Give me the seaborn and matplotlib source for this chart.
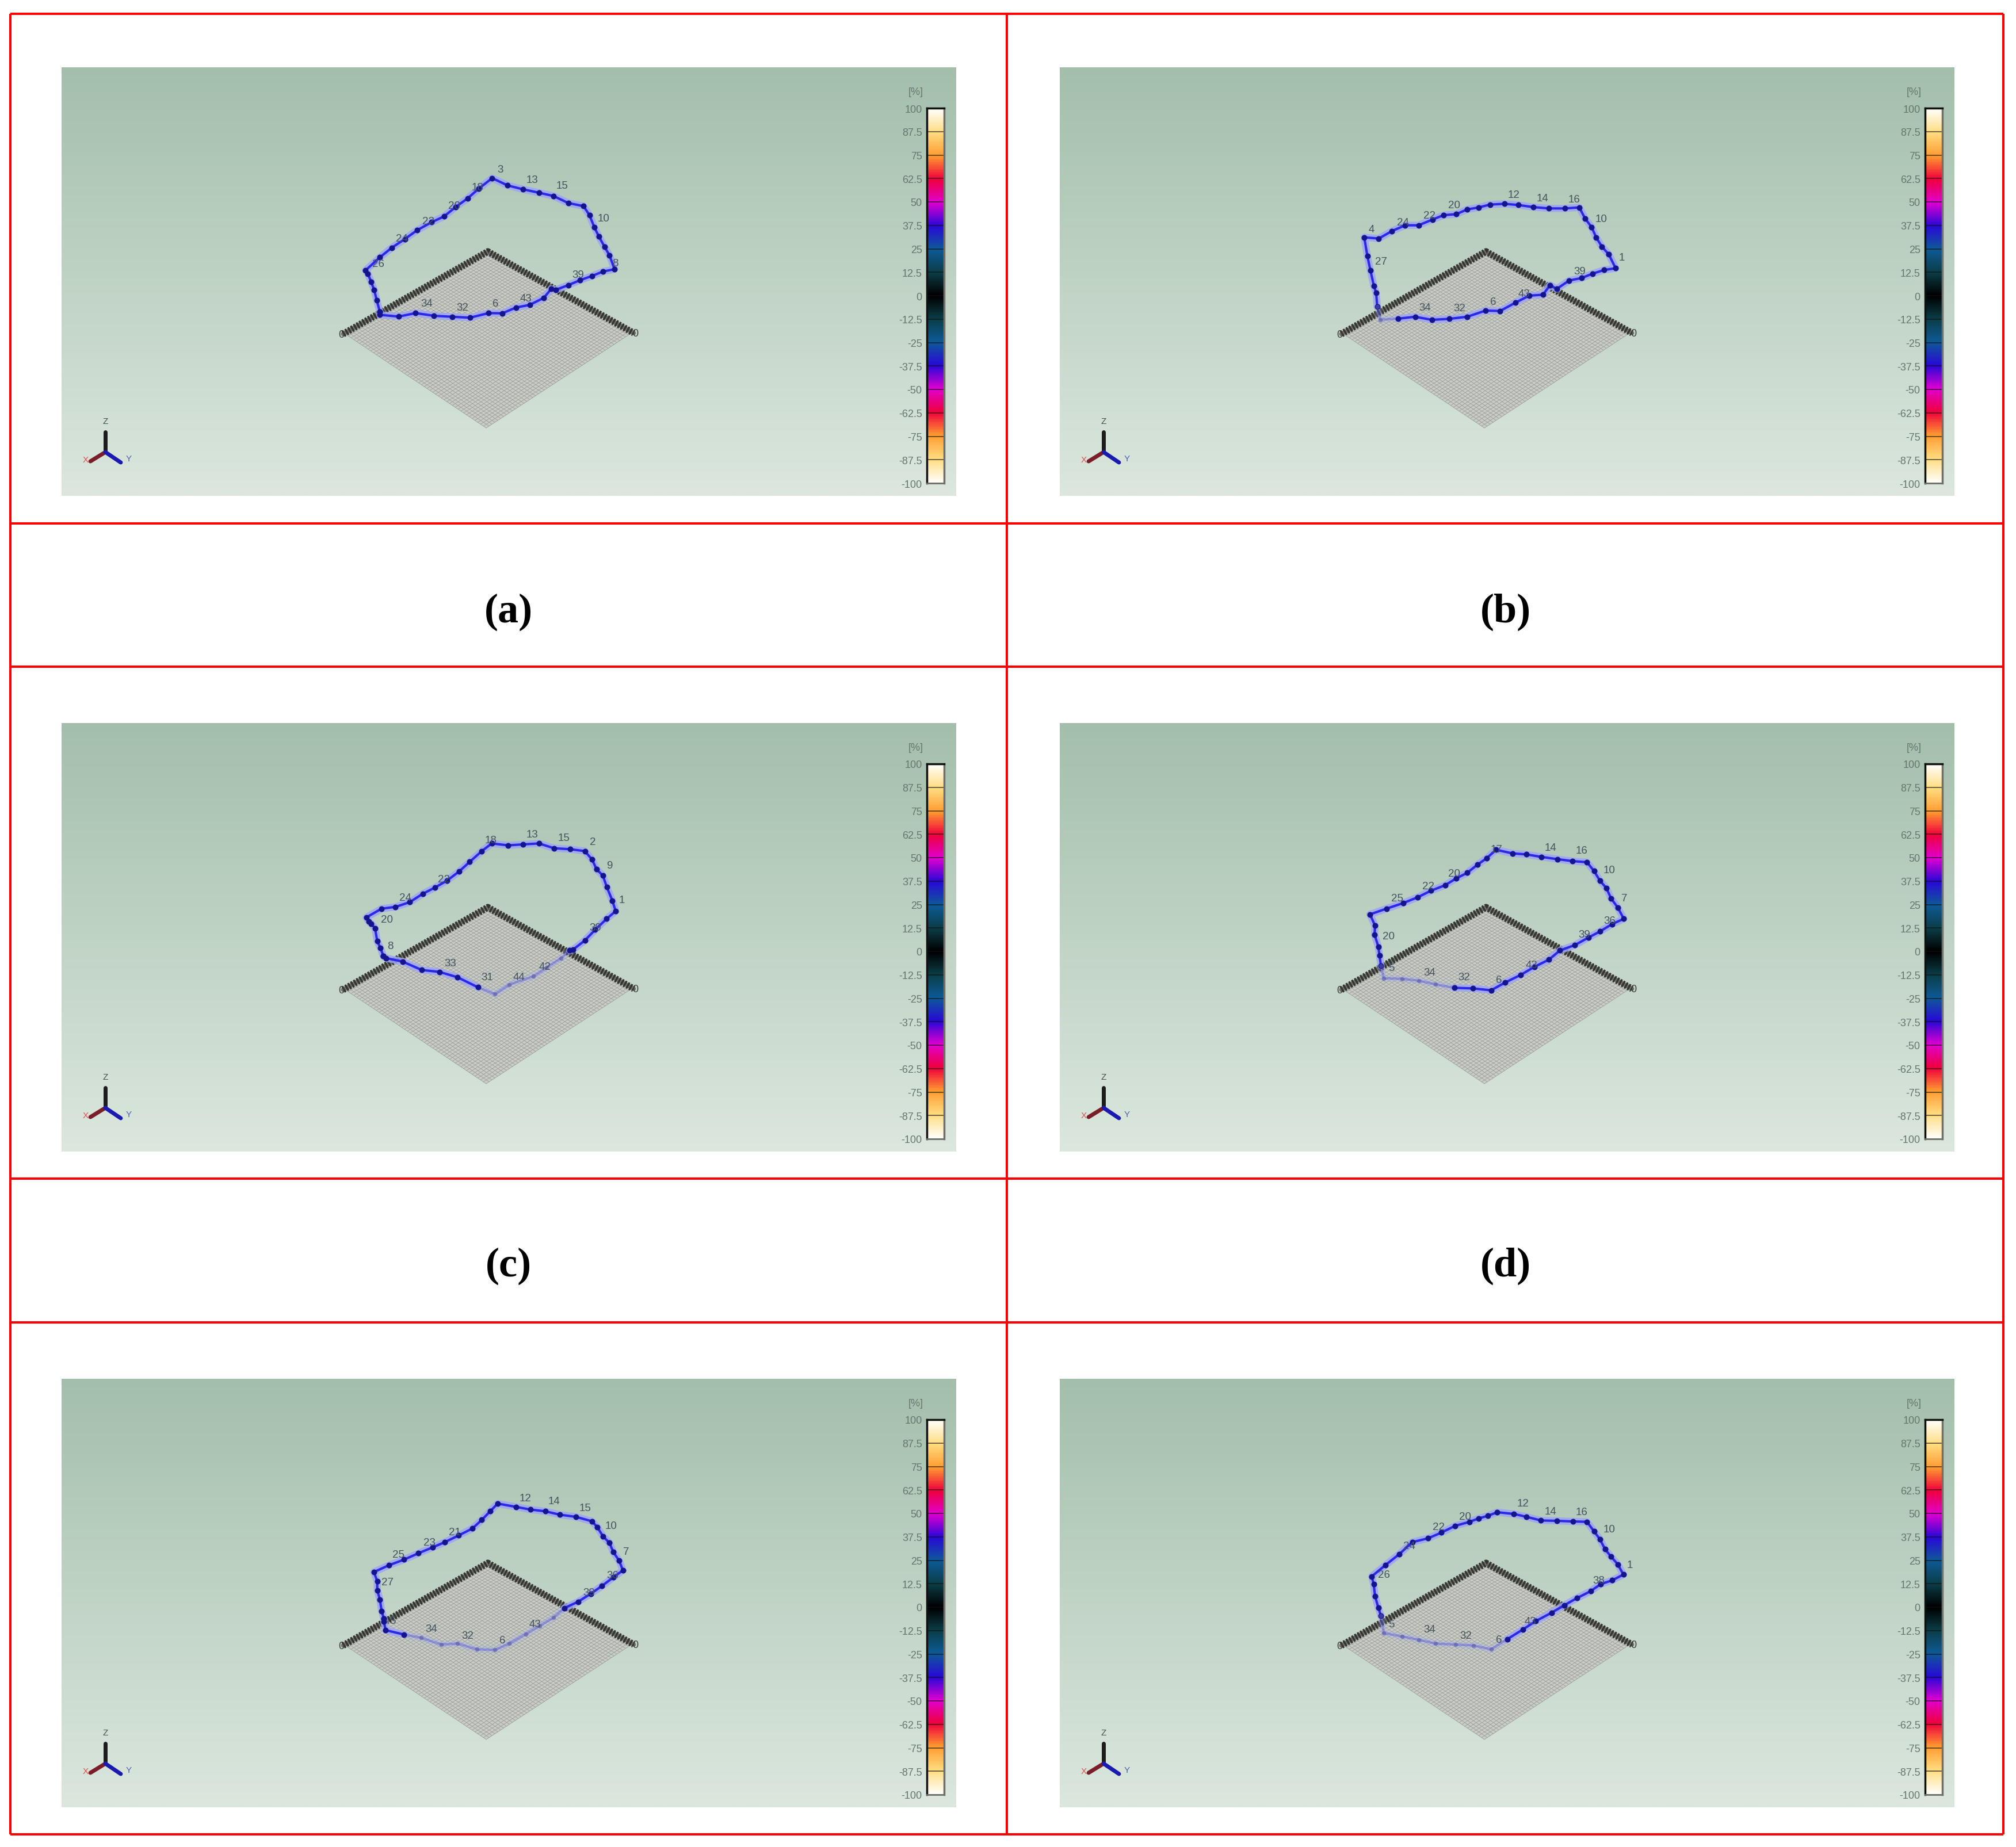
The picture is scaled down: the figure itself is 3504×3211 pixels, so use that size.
import numpy as np
import matplotlib
matplotlib.use('Agg')
import matplotlib.pyplot as plt
from matplotlib.colors import LinearSegmentedColormap
import seaborn as sns

# loop positions, in crop units (x/2.613, y/3 gives px)
a_x = [262,248,236,222,207,197,262,316,375,432,497,553,607,660,712,772,842,911,984,1050,1118,1187,1214,1236,1257,1283,1305,1328,1276,1226,1172,1118,1060,1040,1007,943,880,818,755,671,590,508,424,348,262]
a_y = [880,820,765,722,680,663,595,545,500,453,412,382,332,288,236,182,220,240,258,275,312,328,375,438,487,541,585,657,669,692,714,740,765,760,806,843,857,887,886,910,905,900,886,904,895]
a_labels = ['3','13','15','10','8','39','43','6','32','34','26','24','22','20','18']
a_label_x = [808,955,1090,1277,1330,1162,925,788,637,476,255,363,483,600,705]
a_label_y = [135,190,222,392,625,685,810,835,855,835,630,498,405,325,230]

b_x = [245,240,230,214,200,186,252,312,372,433,496,547,604,654,706,757,823,885,953,1024,1097,1163,1189,1219,1240,1266,1297,1328,1276,1224,1173,1117,1060,1030,998,935,872,803,737,654,572,493,417,340,260]
b_y = [852,780,745,663,587,491,497,458,428,428,398,375,370,345,335,320,316,322,333,340,340,335,392,438,492,540,580,652,661,680,703,716,760,740,790,795,832,875,873,905,916,921,905,915,920]
b_labels = ['4','24','22','20','12','14','16','10','1','39','27','34','32','6','43']
b_label_x = [218,362,483,595,866,996,1140,1262,1355,1165,262,462,620,772,912]
b_label_y = [450,412,375,322,270,288,292,393,595,668,615,855,860,825,785]

c_x = [278,265,250,240,222,212,200,270,333,398,456,512,568,622,670,725,770,845,911,985,1053,1127,1193,1226,1246,1275,1293,1318,1333,1292,1240,1193,1140,1125,1085,1020,960,850,785,707,615,533,452,365,290]
c_y = [820,778,742,675,650,640,618,572,563,538,495,462,425,378,328,272,232,242,237,232,257,262,272,316,366,400,460,530,585,625,682,738,785,790,830,880,925,968,1018,982,930,902,892,848,830]
c_labels = ['13','15','2','9','1','20','8','24','22','18','33','31','44','42','39']
c_label_x = [955,1097,1228,1305,1360,293,310,378,553,765,583,748,893,1012,1240]
c_label_y = [185,203,225,347,528,628,768,515,418,215,858,930,930,875,672]

d_x = [262,255,250,233,235,212,287,363,428,490,553,603,654,700,741,785,860,922,990,1063,1132,1198,1230,1256,1286,1307,1338,1365,1311,1257,1204,1143,1075,1025,960,896,825,762,680,595,510,435,358,275]
d_y = [870,815,770,708,660,602,572,543,513,478,450,415,385,343,310,265,284,289,302,314,324,330,376,425,465,518,567,625,653,691,723,762,790,838,875,918,958,998,988,985,967,948,938,935]
d_labels = ['17','14','16','10','7','36','39','20','25','22','20','5','34','32','6','43']
d_label_x = [788,1032,1173,1298,1368,1302,1187,297,335,477,595,310,483,640,798,945]
d_label_y = [262,255,270,372,518,635,708,715,518,455,388,880,905,930,945,865]

e_x = [280,270,262,250,250,235,302,372,437,502,557,620,682,725,763,797,880,945,1013,1080,1152,1225,1250,1275,1305,1322,1349,1366,1322,1270,1220,1162,1100,1050,987,925,850,785,702,615,540,450,372,288,280]
e_y = [855,815,755,707,660,612,577,547,514,483,456,421,385,340,295,255,272,286,295,313,324,347,378,425,460,507,553,603,640,685,725,767,800,850,893,935,985,1018,1015,985,990,955,938,915,870]
e_labels = ['12','14','15','10','7','36','39','25','23','21','27','34','32','6','43','5']
e_label_x = [922,1052,1195,1313,1380,1318,1213,345,487,603,297,497,660,818,968,320]
e_label_y = [228,243,278,372,505,630,720,520,458,405,665,908,945,968,885,865]

f_x = [262,250,235,229,220,282,346,404,476,537,599,665,706,747,790,866,923,989,1062,1133,1198,1230,1256,1280,1306,1338,1363,1313,1260,1214,1152,1095,1037,965,906,836,763,682,600,510,433,358,275]
f_y = [840,798,737,675,635,576,518,456,436,406,371,350,332,319,300,309,324,343,345,348,350,400,440,493,530,572,625,655,675,712,748,785,824,868,912,962,1015,995,990,985,965,948,930]
f_labels = ['12','14','16','10','1','38','20','22','24','26','34','32','6','43','5']
f_label_x = [908,1032,1173,1298,1392,1252,645,525,390,277,483,647,798,940,310]
f_label_y = [255,295,300,390,575,655,322,378,475,625,912,945,965,870,885]

panel_x = [a_x, b_x, c_x, d_x, e_x, f_x]
panel_y = [a_y, b_y, c_y, d_y, e_y, f_y]
panel_labels = [a_labels, b_labels, c_labels, d_labels, e_labels, f_labels]
panel_label_x = [a_label_x, b_label_x, c_label_x, d_label_x, e_label_x, f_label_x]
panel_label_y = [a_label_y, b_label_y, c_label_y, d_label_y, e_label_y, f_label_y]
# part of each loop which lies behind the plane and shows faded
panel_faint = [(0,0), (-2,None), (34,39), (-5,None), (33,42), (36,None)]

scale_ticks = [100,87.5,75,62.5,50,37.5,25,12.5,0,-12.5,-25,-37.5,-50,-62.5,-75,-87.5,-100]
scale_colors = ['#fffef8','#ffdc80','#ff9c30','#f0003c','#e000d0','#2808d8','#0e5a98','#0b3e48','#000000']

captions = ['(a)','(b)','(c)','(d)']
caption_x = [884,2617,884,2617]
caption_y = [1064,1064,2201,2201]

W, H = 3504, 3212
sns.set_style('white')
plt.rcParams['font.family'] = ['Liberation Sans', 'DejaVu Sans']
fig = plt.figure(figsize=(W/100, H/100), dpi=100)

def px_axes(left, top, w, h):
    return fig.add_axes([left/W, 1-(top+h)/H, w/W, h/H])

# the red table and the captions
page = px_axes(0, 0, W, H)
page.set_xlim(0, W)
page.set_ylim(H, 0)
page.axis('off')
page.hlines([25,911,1160,2050,2300,3190], 18, 3482, color='#ff0000', lw=2.9)
page.vlines([18,1750,3482], 25, 3190, color='#ff0000', lw=2.9)
for cap, cx, cy in zip(captions, caption_x, caption_y):
    page.text(cx, cy, cap, family='Liberation Serif', weight='bold', fontsize=52, ha='center', va='center', color='black')

back_cmap = LinearSegmentedColormap.from_list('back', ['#a3bfab', '#dce7de'])
pos = [(v-scale_ticks[-1])/200 for v in scale_ticks]
half = scale_colors + scale_colors[-2::-1]
scale_cmap = LinearSegmentedColormap.from_list('scale', list(zip(pos[::-1], half)))

XLIM = (-1184, 2880)
YLIM = (1839, -396)
L, T, R, B = (105,995), (752,570), (1405,990), (745,1485)

lefts = [107, 1842, 107, 1842, 107, 1842]
tops = [118, 118, 1258, 1258, 2398, 2398]

for i in range(6):
    ax = px_axes(lefts[i], tops[i], 1555, 745)
    ax.imshow(np.linspace(0, 1, 256).reshape(-1, 1), extent=(XLIM[0], XLIM[1], YLIM[0], YLIM[1]),
              aspect='auto', cmap=back_cmap, zorder=0)

    # mesh plane
    ax.fill([L[0],T[0],R[0],B[0]], [L[1],T[1],R[1],B[1]], color='#c9cdc6', lw=0, zorder=1)
    for t in np.linspace(0, 1, 51):
        ax.plot([L[0]+t*(T[0]-L[0]), B[0]+t*(R[0]-B[0])], [L[1]+t*(T[1]-L[1]), B[1]+t*(R[1]-B[1])],
                color='#999d97', lw=0.6, zorder=2)
        ax.plot([L[0]+t*(B[0]-L[0]), T[0]+t*(R[0]-T[0])], [L[1]+t*(B[1]-L[1]), T[1]+t*(R[1]-T[1])],
                color='#999d97', lw=0.6, zorder=2)
    ax.plot([L[0]-10,T[0],R[0]+10], [L[1],T[1]-5,R[1]], color='#6f726b', lw=5.5, zorder=3)
    ax.plot([L[0]-10,T[0],R[0]+10], [L[1],T[1]-5,R[1]], color='#33332f', lw=8.5, ls=(0,(0.28,0.2)), zorder=3)
    ax.text(L[0]-18, L[1]+2, '0', fontsize=13, color='#3e3e38', ha='center', va='center', zorder=3)
    ax.text(R[0]+18, R[1]+2, '0', fontsize=13, color='#3e3e38', ha='center', va='center', zorder=3)

    # right column crops start 5 px further along
    shift = 13 if i % 2 else 0
    x = np.array(panel_x[i] + panel_x[i][:1]) + shift
    y = np.array(panel_y[i] + panel_y[i][:1])
    fade = np.zeros(len(x), dtype=bool)
    fade[panel_faint[i][0]:panel_faint[i][1]] = True
    k = 0
    while k < len(x)-1:
        j = k
        while j < len(x)-1 and (fade[j] or fade[j+1]) == (fade[k] or fade[k+1]):
            j += 1
        f = fade[k] or fade[k+1]
        sns.lineplot(x=x[k:j+1], y=y[k:j+1], sort=False, estimator=None, ax=ax, color='#9fa5f5',
                     lw=9, alpha=0.25 if f else 0.85, zorder=4, legend=False)
        sns.lineplot(x=x[k:j+1], y=y[k:j+1], sort=False, estimator=None, ax=ax, color='#2a2ae6',
                     lw=3, alpha=0.3 if f else 1, zorder=5, legend=False)
        k = j
    sns.scatterplot(x=x[~fade], y=y[~fade], ax=ax, color='#14148c', s=52, lw=0, zorder=6, legend=False)
    sns.scatterplot(x=x[fade], y=y[fade], ax=ax, color='#5a5aa8', s=30, lw=0, alpha=0.6, zorder=6, legend=False)
    for txt, lx, ly in zip(panel_labels[i], panel_label_x[i], panel_label_y[i]):
        ax.text(lx+shift, ly, txt, fontsize=13.5, color='#46525e', ha='center', va='center', zorder=7)

    # axis triad
    ax.plot([-985,-985], [1611,1506], color='#1c1c1c', lw=5, zorder=5)
    ax.plot([-985,-1053], [1611,1659], color='#7a1f2a', lw=5, zorder=5)
    ax.plot([-985,-915], [1611,1665], color='#1a1ab0', lw=5, zorder=5)
    ax.text(-985, 1449, 'Z', fontsize=11, color='#4a4a4a', ha='center', va='center', zorder=5)
    ax.text(-1075, 1650, 'X', fontsize=11, color='#e05050', ha='center', va='center', zorder=5)
    ax.text(-878, 1644, 'Y', fontsize=11, color='#5060b0', ha='center', va='center', zorder=5)

    ax.set_xlim(XLIM)
    ax.set_ylim(YLIM)
    ax.set_xlabel('')
    ax.set_ylabel('')
    ax.axis('off')

    # colour scale
    cax = px_axes(lefts[i]+1504, tops[i]+71, 30, 652)
    cax.imshow(np.linspace(100, -100, 401).reshape(-1, 1), extent=(0, 1, -100, 100), aspect='auto',
               cmap=scale_cmap, vmin=-100, vmax=100)
    cax.hlines(scale_ticks, 0, 1, color='#101010', lw=1.2, alpha=0.7)
    cax.set_xticks([])
    cax.set_yticks(scale_ticks)
    cax.set_yticklabels([f'{v:g}' for v in scale_ticks], fontsize=13, color='#66766e')
    cax.tick_params(axis='y', length=0, pad=6, left=False)
    cax.set_title('[%]', fontsize=13, color='#66766e', x=-0.22, y=1.024, ha='right')
    for side, col, wid in [('left','#101010',2.5), ('top','#101010',2.5), ('right','#70706a',2.5), ('bottom','#70706a',2)]:
        cax.spines[side].set_visible(True)
        cax.spines[side].set_color(col)
        cax.spines[side].set_linewidth(wid)

fig.savefig('out.png', dpi=100)
